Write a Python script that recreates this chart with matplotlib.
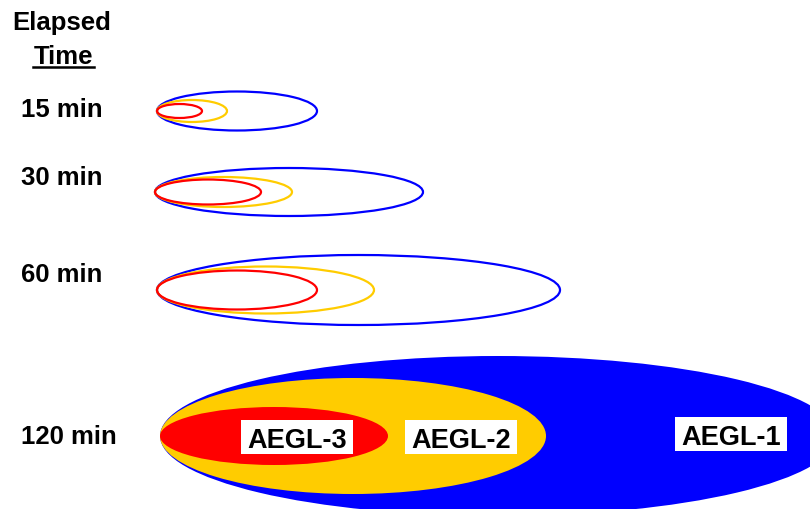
import matplotlib.pyplot as plt
from matplotlib.patches import Ellipse, Rectangle

# Plume footprints (length x width, in chart units) per elapsed time
times = ['15 min', '30 min', '60 min', '120 min']
aegl1_len = [160, 268, 403, 676]
aegl1_wid = [39, 48, 70, 160]
aegl2_len = [70, 137, 217, 386]
aegl2_wid = [22, 30, 47, 116]
aegl3_len = [45, 106, 160, 228]
aegl3_wid = [14, 25, 39, 58]
levels = ['AEGL-1', 'AEGL-2', 'AEGL-3']

# layout
row_y = [112, 193, 291, 437]
label_base = [117, 185, 282, 444]
left_x = [157, 155, 157, 160]
colors = {'AEGL-1': '#0000FF', 'AEGL-2': '#FFCC00', 'AEGL-3': '#FF0000'}

plt.rcParams['font.family'] = ['Liberation Sans', 'DejaVu Sans']

fig = plt.figure(figsize=(8.1, 5.1), dpi=100)
ax = fig.add_axes([0, 0, 1, 1])
ax.set_xlim(0, 810)
ax.set_ylim(510, 0)
ax.axis('off')

# header
ax.text(62, 30, 'Elapsed', ha='center', va='baseline', fontsize=18.5, fontweight='bold')
ax.text(63, 64, 'Time', ha='center', va='baseline', fontsize=18.5, fontweight='bold')
ax.plot([33, 94], [68, 68], color='black', lw=1.8)

sizes = {'AEGL-1': (aegl1_len, aegl1_wid),
         'AEGL-2': (aegl2_len, aegl2_wid),
         'AEGL-3': (aegl3_len, aegl3_wid)}

for i, t in enumerate(times):
    ax.text(21, label_base[i], t, ha='left', va='baseline', fontsize=18.5, fontweight='bold')
    last = i == len(times) - 1
    for lev in levels:
        L, W = sizes[lev][0][i], sizes[lev][1][i]
        cx = left_x[i] + L / 2
        if last:
            e = Ellipse((cx, row_y[i]), L, W, facecolor=colors[lev], edgecolor='none')
        else:
            e = Ellipse((cx, row_y[i]), L, W, facecolor='none', edgecolor=colors[lev], lw=1.6)
        ax.add_patch(e)

# labels on the 120 min footprint (white boxes behind)
label_x = {'AEGL-3': 297, 'AEGL-2': 461, 'AEGL-1': 731}
label_y = {'AEGL-3': 448, 'AEGL-2': 448, 'AEGL-1': 445}
box_w, box_h = 112, 34
for lev in levels:
    ax.add_patch(Rectangle((label_x[lev] - box_w / 2, label_y[lev] - 27), box_w, box_h,
                           facecolor='white', edgecolor='none'))
    ax.text(label_x[lev], label_y[lev], lev, ha='center', va='baseline', fontsize=19.5,
            fontweight='bold')

fig.savefig('out.png', dpi=100)
